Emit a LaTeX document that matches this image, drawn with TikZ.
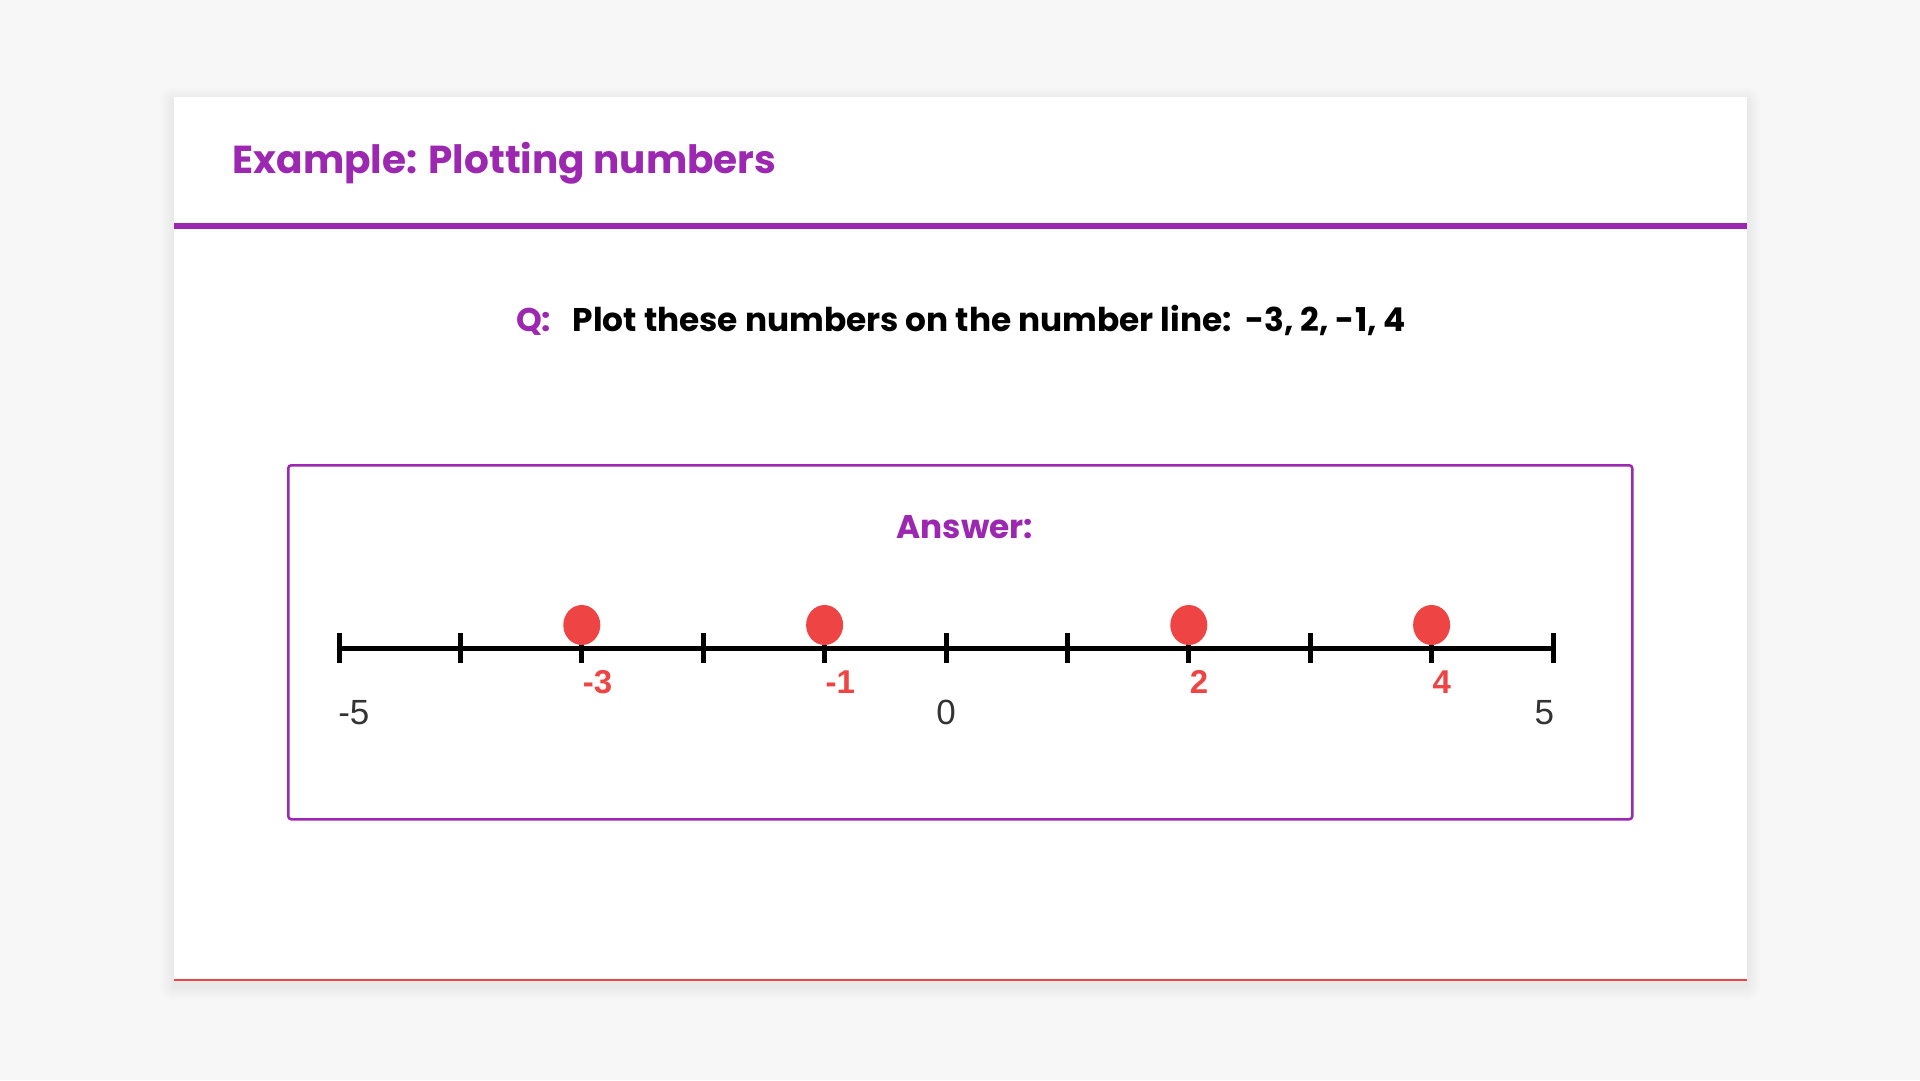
\documentclass[tikz,border=0pt]{standalone}
\usepackage{fontspec}
\usetikzlibrary{calc}
\setmainfont{Poppins}
\newfontfamily\arialf{Liberation Sans}
\definecolor{purp}{HTML}{9C27B0}
\definecolor{dotred}{HTML}{EF4444}
\definecolor{bgc}{HTML}{F7F7F7}
\definecolor{labgray}{HTML}{333333}
\tikzset{
  txt/.style={inner sep=0pt, outer sep=0pt},
  titlefont/.style={txt, font=\bfseries\fontsize{39}{39}\selectfont, text=purp},
  qfont/.style={txt, font=\bfseries\fontsize{32.8}{32.8}\selectfont},
  ansfont/.style={txt, font=\bfseries\fontsize{32.8}{32.8}\selectfont, text=purp},
  redlab/.style={txt, font=\arialf\bfseries\fontsize{33}{33}\selectfont, text=dotred},
  blklab/.style={txt, font=\arialf\fontsize{35}{35}\selectfont, text=labgray},
  tickline/.style={line width=5pt},
  axisline/.style={line width=4.7pt},
  plotdot/.style={fill=dotred},
}
\begin{document}
\begin{tikzpicture}[x=1pt,y=-1pt]
\fill[bgc] (0,0) rectangle (1920,1080);
\useasboundingbox (0,0) rectangle (1920,1080);
% card shadow
\foreach \i in {1,...,14}{
  \fill[black, opacity=0.005, rounded corners=\i pt] (173.5-\i,97-\i+4) rectangle (1746.5+\i,981+\i+5);
}
% card
\fill[white] (173.5,97) rectangle (1746.5,981);
\draw[dotred, line width=2pt] (173.5,980) -- (1746.5,980);
\fill[purp] (173.5,223) rectangle (1746.5,229);
% title
\node[titlefont, anchor=base west] (title) at (232.7,173.3) {Example: Plotting numbers};
% question
\node[qfont, text=purp, anchor=base west] (q) at (516,331) {Q:};
\node[qfont, text=black, anchor=base west] (qtext) at (572.7,331) {Plot these numbers on the number line:\ \ -3, 2, -1, 4};
% answer box
\node[draw=purp, line width=2.5pt, rounded corners=3pt, minimum width=1344pt, minimum height=354pt, inner sep=0pt, anchor=north west] (box) at (287,464) {};
\node[ansfont, anchor=base west] (ans) at (896.7,538.3) {Answer:};
% number line
\coordinate (L) at (339,648.3);
\coordinate (R) at (1553,648.3);
\draw[axisline] (L) -- (R);
\foreach \i in {0,...,10}{
  \draw[tickline] ($(L)+(\i*121.4,-15)$) -- ($(L)+(\i*121.4,14.4)$);
}
% dots
\foreach \v in {-3,-1,2,4}{
  \fill[plotdot] ($(L)+({(\v+5)*121.4},-23.3)$) ellipse [x radius=18.5pt, y radius=20pt];
}
% red labels
\node[redlab, anchor=base west] (lm3) at ($(L)+(2*121.4+1,44.8)$) {-3};
\node[redlab, anchor=base west] (lm1) at ($(L)+(4*121.4+1,44.8)$) {-1};
\node[redlab, anchor=base west] (lp2) at ($(L)+(7*121.4+1,44.8)$) {2};
\node[redlab, anchor=base west] (lp4) at ($(L)+(9*121.4+1,44.8)$) {4};
% black labels
\node[blklab, anchor=base west] (lm5) at ($(L)+(-0.7,75.7)$) {-5};
\node[blklab, anchor=base] (l0) at ($(L)+(5*121.4,75.7)$) {0};
\node[blklab, anchor=base east] (l5) at ($(R)+(1,75.7)$) {5};
\end{tikzpicture}
\end{document}
